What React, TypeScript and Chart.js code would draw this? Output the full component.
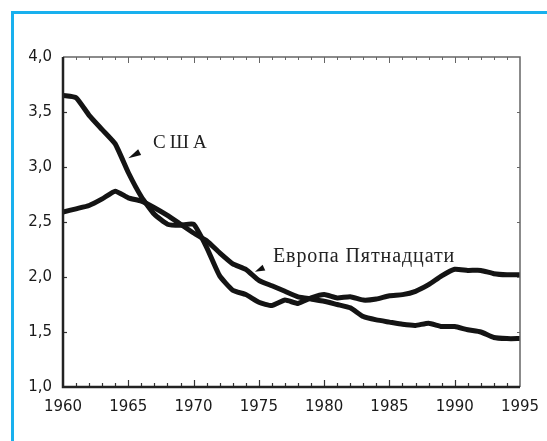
import { useEffect, useRef } from "react";
import { Chart, registerables } from "chart.js";

Chart.register(...registerables);

const years = [
  1960, 1961, 1962, 1963, 1964, 1965, 1966, 1967, 1968, 1969,
  1970, 1971, 1972, 1973, 1974, 1975, 1976, 1977, 1978, 1979,
  1980, 1981, 1982, 1983, 1984, 1985, 1986, 1987, 1988, 1989,
  1990, 1991, 1992, 1993, 1994, 1995,
];

const usa = [
  3.65, 3.63, 3.47, 3.34, 3.21, 2.95, 2.73, 2.57, 2.48, 2.47,
  2.48, 2.27, 2.01, 1.88, 1.84, 1.77, 1.74, 1.79, 1.76, 1.81,
  1.84, 1.81, 1.82, 1.79, 1.80, 1.83, 1.84, 1.87, 1.93, 2.01,
  2.07, 2.06, 2.06, 2.03, 2.02, 2.02,
];

const europe = [
  2.59, 2.62, 2.65, 2.71, 2.78, 2.72, 2.69, 2.63, 2.56, 2.48,
  2.40, 2.33, 2.22, 2.12, 2.07, 1.97, 1.92, 1.87, 1.82, 1.80,
  1.78, 1.75, 1.72, 1.64, 1.61, 1.59, 1.57, 1.56, 1.58, 1.55,
  1.55, 1.52, 1.50, 1.45, 1.44, 1.44,
];

const xMajorTicks = [1960, 1965, 1970, 1975, 1980, 1985, 1990, 1995];
const yTickValues = [1.0, 1.5, 2.0, 2.5, 3.0, 3.5, 4.0];

const labelUSA = "США";
const labelEurope = "Европа Пятнадцати";

// annotation anchors in data coordinates: [year, value]
const usaTextAt = [1966.9, 3.17];
const usaArrowTip = [1965.0, 3.08];
const usaArrowBase = [1965.87, 3.135];
const euTextAt = [1976.08, 2.139];
const euArrowTip = [1974.7, 2.048];
const euArrowBase = [1975.39, 2.086];

const decorPlugin = {
  id: "decor",
  beforeDraw(chart: any) {
    const ctx = chart.ctx;
    ctx.save();
    ctx.fillStyle = "#ffffff";
    ctx.fillRect(0, 0, chart.width, chart.height);
    ctx.strokeStyle = "#18b0ee";
    ctx.lineWidth = 3;
    ctx.strokeRect(12.5, 12.5, chart.width + 20, chart.height + 20);
    ctx.restore();
  },
  afterDatasetsDraw(chart: any) {
    const ctx = chart.ctx;
    const xs = chart.scales.x;
    const ys = chart.scales.y;
    const { left, right, top, bottom } = chart.chartArea;
    ctx.save();

    // ticks
    ctx.lineCap = "butt";
    for (const yr of years) {
      const px = Math.round(xs.getPixelForValue(yr)) + 0.5;
      const major = xMajorTicks.includes(yr);
      if (yr === 1960 || yr === 1995) continue;
      ctx.strokeStyle = "#333";
      ctx.lineWidth = 1.2;
      ctx.beginPath();
      ctx.moveTo(px, bottom);
      ctx.lineTo(px, bottom - (major ? 7 : 4));
      ctx.stroke();
      ctx.strokeStyle = "#666";
      ctx.lineWidth = 1;
      ctx.beginPath();
      ctx.moveTo(px, top);
      ctx.lineTo(px, top + (major ? 6 : 3));
      ctx.stroke();
    }
    for (const v of yTickValues) {
      if (v === 1.0 || v === 4.0) continue;
      const py = Math.round(ys.getPixelForValue(v)) + 0.5;
      ctx.strokeStyle = "#333";
      ctx.lineWidth = 1.2;
      ctx.beginPath();
      ctx.moveTo(left, py);
      ctx.lineTo(left + 4, py);
      ctx.stroke();
      ctx.strokeStyle = "#666";
      ctx.lineWidth = 1;
      ctx.beginPath();
      ctx.moveTo(right, py);
      ctx.lineTo(right - 3, py);
      ctx.stroke();
    }

    // frame
    ctx.strokeStyle = "#666";
    ctx.lineWidth = 1.5;
    ctx.beginPath();
    ctx.moveTo(left, top);
    ctx.lineTo(right, top);
    ctx.lineTo(right, bottom);
    ctx.stroke();
    ctx.strokeStyle = "#222";
    ctx.lineWidth = 2.5;
    ctx.beginPath();
    ctx.moveTo(left, top);
    ctx.lineTo(left, bottom);
    ctx.lineTo(right, bottom);
    ctx.stroke();

    // annotations
    const P = (p: number[]) => [xs.getPixelForValue(p[0]), ys.getPixelForValue(p[1])];
    const arrow = (tip: number[], base: number[]) => {
      const [tx, ty] = P(tip);
      const [bx, by] = P(base);
      const dx = bx - tx;
      const dy = by - ty;
      const len = Math.hypot(dx, dy) || 1;
      const nx = -dy / len;
      const ny = dx / len;
      const hw = 3.2;
      ctx.fillStyle = "#111";
      ctx.beginPath();
      ctx.moveTo(tx, ty);
      ctx.lineTo(bx + nx * hw, by + ny * hw);
      ctx.lineTo(bx - nx * hw, by - ny * hw);
      ctx.closePath();
      ctx.fill();
    };
    arrow(usaArrowTip, usaArrowBase);
    arrow(euArrowTip, euArrowBase);

    ctx.fillStyle = "#222";
    ctx.textAlign = "left";
    ctx.textBaseline = "alphabetic";
    ctx.font = '19px "Liberation Serif", "DejaVu Serif", serif';
    const [ux, uy] = P(usaTextAt);
    (ctx as any).letterSpacing = "4px";
    ctx.fillText(labelUSA, ux, uy);
    ctx.font = '20px "Liberation Serif", "DejaVu Serif", serif';
    (ctx as any).letterSpacing = "0.9px";
    const [ex, ey] = P(euTextAt);
    ctx.fillText(labelEurope, ex, ey);
    (ctx as any).letterSpacing = "0px";

    ctx.restore();
  },
};

export default function App() {
  const ref = useRef<HTMLCanvasElement | null>(null);

  useEffect(() => {
    if (!ref.current) return;
    const chart = new Chart(ref.current, {
      type: "line",
      data: {
        datasets: [
          {
            label: "США",
            data: years.map((y, i) => ({ x: y, y: usa[i] })),
            borderColor: "#141414",
            borderWidth: 5,
            pointRadius: 0,
            tension: 0.15,
            borderJoinStyle: "round",
            borderCapStyle: "butt",
          },
          {
            label: "Европа Пятнадцати",
            data: years.map((y, i) => ({ x: y, y: europe[i] })),
            borderColor: "#141414",
            borderWidth: 5,
            pointRadius: 0,
            tension: 0.15,
            borderJoinStyle: "round",
            borderCapStyle: "butt",
          },
        ],
      },
      options: {
        animation: false,
        responsive: false,
        devicePixelRatio: 1,
        layout: { padding: { top: 57, right: 27, left: 0, bottom: 0 } },
        plugins: {
          legend: { display: false },
          tooltip: { enabled: false },
        },
        scales: {
          x: {
            type: "linear",
            min: 1960,
            max: 1995,
            grid: { display: false },
            border: { display: false },
            ticks: {
              stepSize: 5,
              autoSkip: false,
              maxRotation: 0,
              padding: 3,
              color: "#1a1a1a",
              font: { family: "DejaVu Sans", size: 15 },
              callback: (v: any) => String(v),
            },
            afterFit: (s: any) => {
              s.height = 54;
            },
          },
          y: {
            min: 1,
            max: 4,
            grid: { display: false },
            border: { display: false },
            ticks: {
              stepSize: 0.5,
              padding: 3,
              color: "#1a1a1a",
              font: { family: "DejaVu Sans", size: 15 },
              callback: (v: any) => Number(v).toFixed(1).replace(".", ","),
            },
            afterFit: (s: any) => {
              s.width = 63;
            },
          },
        },
      },
      plugins: [decorPlugin],
    } as any);
    return () => chart.destroy();
  }, []);

  return (
    <div style={{ position: "fixed", left: 0, top: 0, width: 547, height: 441 }}>
      <canvas ref={ref} width={547} height={441} style={{ display: "block", width: 547, height: 441 }} />
    </div>
  );
}
